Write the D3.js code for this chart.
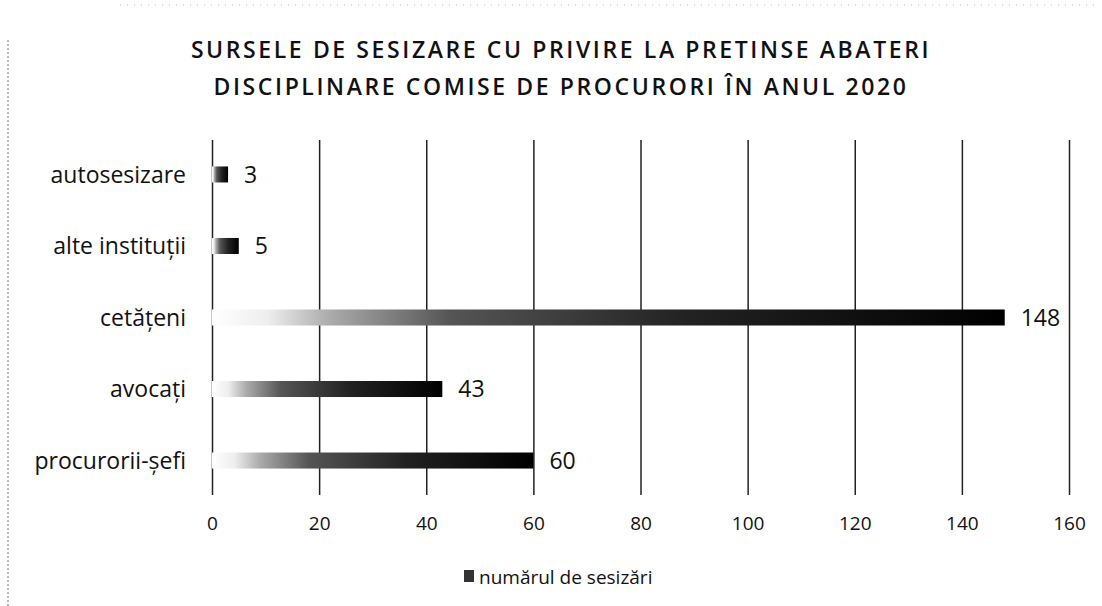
<!DOCTYPE html>
<html>
<head>
<meta charset="utf-8">
<script src="https://cdn.jsdelivr.net/npm/d3@7"></script>
<style>
  body { margin: 0; background: #fff; }
  svg { display: block; font-family: "Open Sans", "Noto Sans", sans-serif; }
</style>
</head>
<body>
<div id="chart"></div>
<script>
// Data
const categories = ["autosesizare", "alte instituții", "cetățeni", "avocați", "procurorii-șefi"];
const values = [3, 5, 148, 43, 60];
const xTicks = [0, 20, 40, 60, 80, 100, 120, 140, 160];
const titleLines = [
  "SURSELE DE SESIZARE CU PRIVIRE LA PRETINSE ABATERI",
  "DISCIPLINARE COMISE DE PROCURORI ÎN ANUL 2020"
];
const seriesName = "numărul de sesizări";

const width = 1102;
const height = 606;
const margin = { top: 140, right: 33, bottom: 111, left: 212 };
const innerWidth = width - margin.left - margin.right;
const innerHeight = height - margin.top - margin.bottom;

const svg = d3.select("#chart")
  .append("svg")
    .attr("width", width)
    .attr("height", height)
    .attr("viewBox", [0, 0, width, height]);

// scan borders (the reference is a scanned page)
svg.append("line")
  .attr("x1", 8).attr("x2", 8).attr("y1", 40).attr("y2", height)
  .attr("stroke", "#777").attr("stroke-width", 1).attr("stroke-dasharray", "2,2");
svg.append("line")
  .attr("x1", 120).attr("x2", 1095).attr("y1", 5).attr("y2", 5)
  .attr("stroke", "#bbb").attr("stroke-width", 1).attr("stroke-dasharray", "1,6");

// Gradient for bars (light on the left, black on the right)
const grad = svg.append("defs")
  .append("linearGradient")
    .attr("id", "barGrad")
    .attr("x1", "0%").attr("x2", "100%").attr("y1", "0%").attr("y2", "0%");
grad.append("stop").attr("offset", "0%").attr("stop-color", "#fff");
grad.append("stop").attr("offset", "7%").attr("stop-color", "#eee");
grad.append("stop").attr("offset", "15%").attr("stop-color", "#aaa");
grad.append("stop").attr("offset", "30%").attr("stop-color", "#555");
grad.append("stop").attr("offset", "60%").attr("stop-color", "#222");
grad.append("stop").attr("offset", "100%").attr("stop-color", "#000");

// Title
svg.append("g")
  .selectAll("text")
  .data(titleLines)
  .join("text")
    .attr("x", 561)
    .attr("y", (d, i) => 58 + i * 37)
    .attr("text-anchor", "middle")
    .style("font-size", "23px")
    .style("font-weight", 600)
    .style("letter-spacing", "2.6px")
    .attr("fill", "#111")
    .text(d => d);

// Scales
const xScale = d3.scaleLinear()
  .domain([0, 160])
  .range([0, innerWidth]);

const yScale = d3.scaleBand()
  .domain(categories)
  .range([0, innerHeight])
  .paddingInner(0.776)
  .paddingOuter(0.37);

const chart = svg.append("g")
  .attr("transform", `translate(${margin.left}, ${margin.top})`);

// Grid
const bottomAxis = d3.axisBottom(xScale)
  .tickValues(xTicks)
  .tickSize(innerHeight * -1)
  .tickPadding(22)
  .tickFormat(d3.format("d"));
chart.append("g")
    .attr("class", "axis axis-x")
    .attr("transform", `translate(0, ${innerHeight})`)
    .call(bottomAxis)
    .call(g => g.select(".domain").remove())
    .call(g => g.selectAll(".tick line").attr("stroke", "#222").attr("stroke-width", 1.5))
    .call(g => g.selectAll(".tick text")
      .attr("fill", "#111")
      .style("font-size", "19px")
      .style("font-family", "'Open Sans', sans-serif"));

// Bars
chart.selectAll("rect.bar")
  .data(categories)
  .join("rect")
    .attr("class", "bar")
    .attr("x", xScale(0))
    .attr("y", d => yScale(d))
    .attr("width", (d, i) => xScale(values[i]) - xScale(0))
    .attr("height", yScale.bandwidth())
    .attr("fill", "url(#barGrad)");

// Value labels
chart.selectAll("text.value")
  .data(categories)
  .join("text")
    .attr("class", "value")
    .attr("x", (d, i) => xScale(values[i]) + 16)
    .attr("y", d => yScale(d) + yScale.bandwidth() / 2)
    .attr("dy", "0.36em")
    .style("font-size", "23px")
    .attr("fill", "#111")
    .text((d, i) => values[i]);

// Category labels
chart.selectAll("text.cat")
  .data(categories)
  .join("text")
    .attr("class", "cat")
    .attr("x", -26)
    .attr("y", d => yScale(d) + yScale.bandwidth() / 2)
    .attr("dy", "0.36em")
    .attr("text-anchor", "end")
    .style("font-size", "23px")
    .attr("fill", "#111")
    .text(d => d);

// Legend
const legend = svg.append("g")
  .attr("transform", `translate(464, 577)`);
legend.append("rect")
  .attr("x", 0).attr("y", -7)
  .attr("width", 10).attr("height", 12)
  .attr("fill", "#333");
legend.append("text")
  .attr("x", 15)
  .attr("y", 0)
  .attr("dy", "0.35em")
  .style("font-size", "19px")
  .attr("fill", "#111")
  .text(seriesName);
</script>
</body>
</html>
